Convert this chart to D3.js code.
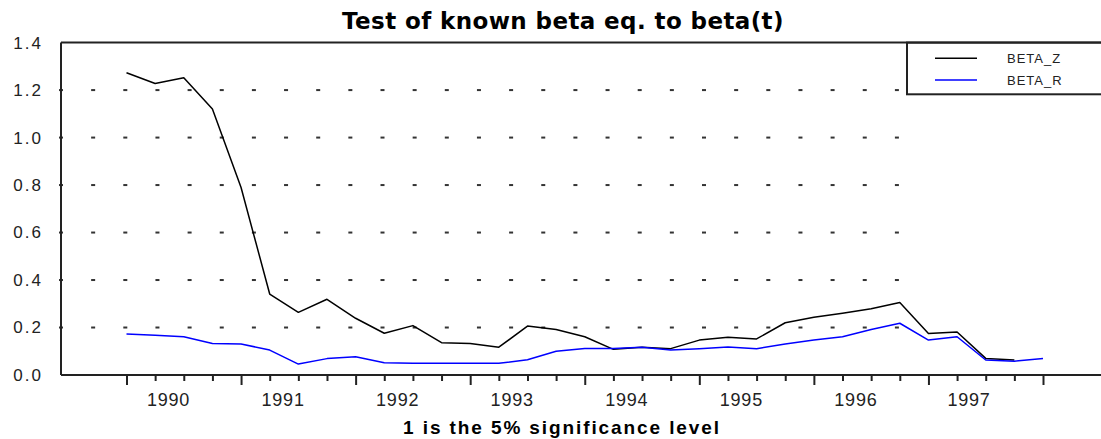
<!DOCTYPE html>
<html>
<head>
<meta charset="utf-8">
<script src="https://cdn.jsdelivr.net/npm/d3@7"></script>
<style>
    body { margin: 0; background: #fff; }
    svg { display: block; }
    .title { font-family: 'DejaVu Sans', sans-serif; font-weight: bold; font-size: 23px; letter-spacing: 0.4px; fill: #000; }
    .xlabel { font-family: 'Liberation Sans', Arial, sans-serif; font-weight: bold; font-size: 19px; letter-spacing: 1.9px; fill: #000; }
    .tick-label { font-family: 'Liberation Sans', Arial, sans-serif; fill: #222; }
    .legend-label { font-family: 'Liberation Sans', Arial, sans-serif; font-size: 13px; letter-spacing: 1px; fill: #222; }
</style>
</head>
<body>
<div id="chart"></div>
<script>
// quarterly observations, BETA_Z stops one quarter before BETA_R
const betaZ = [1.273, 1.228, 1.252, 1.12, 0.79, 0.341, 0.264, 0.319, 0.239, 0.176, 0.208,
    0.136, 0.133, 0.117, 0.206, 0.192, 0.161, 0.108, 0.117, 0.111, 0.147, 0.159,
    0.152, 0.220, 0.243, 0.26, 0.279, 0.305, 0.175, 0.181, 0.070, 0.063];
const betaR = [0.173, 0.167, 0.161, 0.133, 0.131, 0.105, 0.046, 0.069, 0.077, 0.052, 0.049,
    0.049, 0.049, 0.049, 0.064, 0.100, 0.112, 0.112, 0.117, 0.105, 0.111, 0.118,
    0.111, 0.131, 0.147, 0.161, 0.192, 0.218, 0.147, 0.161, 0.063, 0.058, 0.070];
const yearLabels = ['1990', '1991', '1992', '1993', '1994', '1995', '1996', '1997'];
const yearLabelPos = [1.45, 5.45, 9.45, 13.45, 17.45, 21.45, 25.45, 29.4];
const majorTicks = [0, 4, 8, 12, 16, 20, 24, 28, 32];
const yTicks = [0, 0.2, 0.4, 0.6, 0.8, 1.0, 1.2, 1.4];
const seriesNames = ['BETA_Z', 'BETA_R'];
const seriesColors = ['#000000', '#0000ff'];

let width = 1101;
let height = 439;
let frame = { left: 61, top: 42.6, right: 1102, bottom: 375 };

let svg = d3.select('#chart')
    .append('svg')
    .attr('width', width)
    .attr('height', height);

let nObs = betaR.length;
let xScale = d3.scaleLinear()
    .domain([0, nObs - 1])
    .range([126.5, 1043]);
let yScale = d3.scaleLinear()
    .domain([0, 1.4])
    .range([frame.bottom, frame.top]);

// dotted grid: short dashes every 32px from the axis
let dotStep = 32.15;
let dotXs = d3.range(frame.left, 905, dotStep);
let gridGroup = svg.append('g').classed('grid', true);
yTicks.filter(v => v > 0 && v < 1.4).forEach(v => {
    gridGroup.selectAll(null)
        .data(dotXs)
        .enter()
        .append('rect')
        .attr('x', d => d - 2)
        .attr('y', yScale(v) - 1)
        .attr('width', 4)
        .attr('height', 2)
        .style('fill', '#333');
});

// x axis: long ticks once a year, short ticks each quarter
let minorTicks = d3.range(nObs).filter(i => majorTicks.indexOf(i) < 0);
let xMajor = d3.axisBottom(xScale).tickValues(majorTicks).tickSize(10).tickFormat('');
let xMinor = d3.axisBottom(xScale).tickValues(minorTicks).tickSize(6).tickFormat('');
let xLabels = d3.axisBottom(xScale)
    .tickValues(yearLabelPos)
    .tickSize(0)
    .tickPadding(18)
    .tickFormat((d, i) => yearLabels[i]);

[xMajor, xMinor].forEach(ax => {
    let g = svg.append('g')
        .attr('transform', `translate(0,${frame.bottom})`)
        .call(ax);
    g.select('.domain').remove();
    g.selectAll('line').style('stroke', '#222').style('stroke-width', 2);
});
let xLabelGroup = svg.append('g')
    .attr('transform', `translate(0,${frame.bottom})`)
    .call(xLabels);
xLabelGroup.select('.domain').remove();
xLabelGroup.selectAll('text')
    .classed('tick-label', true)
    .attr('dy', '0.71em')
    .style('font-size', '18px')
    .style('letter-spacing', '0.8px')
    .style('font-family', null);

// y axis labels
let yAxis = d3.axisLeft(yScale)
    .tickValues(yTicks)
    .tickSize(0)
    .tickPadding(18)
    .tickFormat(d3.format('.1f'));
let yGroup = svg.append('g')
    .attr('transform', `translate(${frame.left},0)`)
    .call(yAxis);
yGroup.select('.domain').remove();
yGroup.selectAll('text')
    .classed('tick-label', true)
    .style('font-size', '17px')
    .style('letter-spacing', '2px')
    .style('font-family', null);

// series
let line = d3.line()
    .x((d, i) => xScale(i))
    .y(d => yScale(d));
let seriesGroup = svg.append('g').classed('series-group', true);
[betaZ, betaR].forEach((values, k) => {
    seriesGroup.append('path')
        .datum(values)
        .attr('d', line)
        .style('fill', 'none')
        .style('stroke', seriesColors[k])
        .style('stroke-width', 1.5)
        .style('stroke-linejoin', 'round');
});

// legend box (cut by the right edge like the frame)
let legend = svg.append('g').classed('legend', true);
legend.append('rect')
    .attr('x', 907)
    .attr('y', frame.top)
    .attr('width', 300)
    .attr('height', 94.3 - frame.top)
    .style('fill', '#fff')
    .style('stroke', '#222')
    .style('stroke-width', 2);
seriesNames.forEach((name, k) => {
    let ly = 58.3 + k * 21.7;
    legend.append('line')
        .attr('x1', 935).attr('x2', 977)
        .attr('y1', ly).attr('y2', ly)
        .style('stroke', seriesColors[k])
        .style('stroke-width', 1.5);
    legend.append('text')
        .classed('legend-label', true)
        .attr('x', 1007)
        .attr('y', ly + 4.8)
        .text(name);
});

// frame lines: top, left, bottom
let frameGroup = svg.append('g').classed('frame', true);
[[frame.left, frame.top, frame.right, frame.top],
 [frame.left, frame.top, frame.left, frame.bottom],
 [frame.left, frame.bottom, frame.right, frame.bottom]].forEach(c => {
    frameGroup.append('line')
        .attr('x1', c[0]).attr('y1', c[1])
        .attr('x2', c[2]).attr('y2', c[3])
        .style('stroke', '#222')
        .style('stroke-width', 2);
});

svg.append('text')
    .classed('title', true)
    .attr('x', 563)
    .attr('y', 29)
    .attr('text-anchor', 'middle')
    .text('Test of known beta eq. to beta(t)');

svg.append('text')
    .classed('xlabel', true)
    .attr('x', 562)
    .attr('y', 434)
    .attr('text-anchor', 'middle')
    .text('1 is the 5% significance level');
</script>
</body>
</html>
